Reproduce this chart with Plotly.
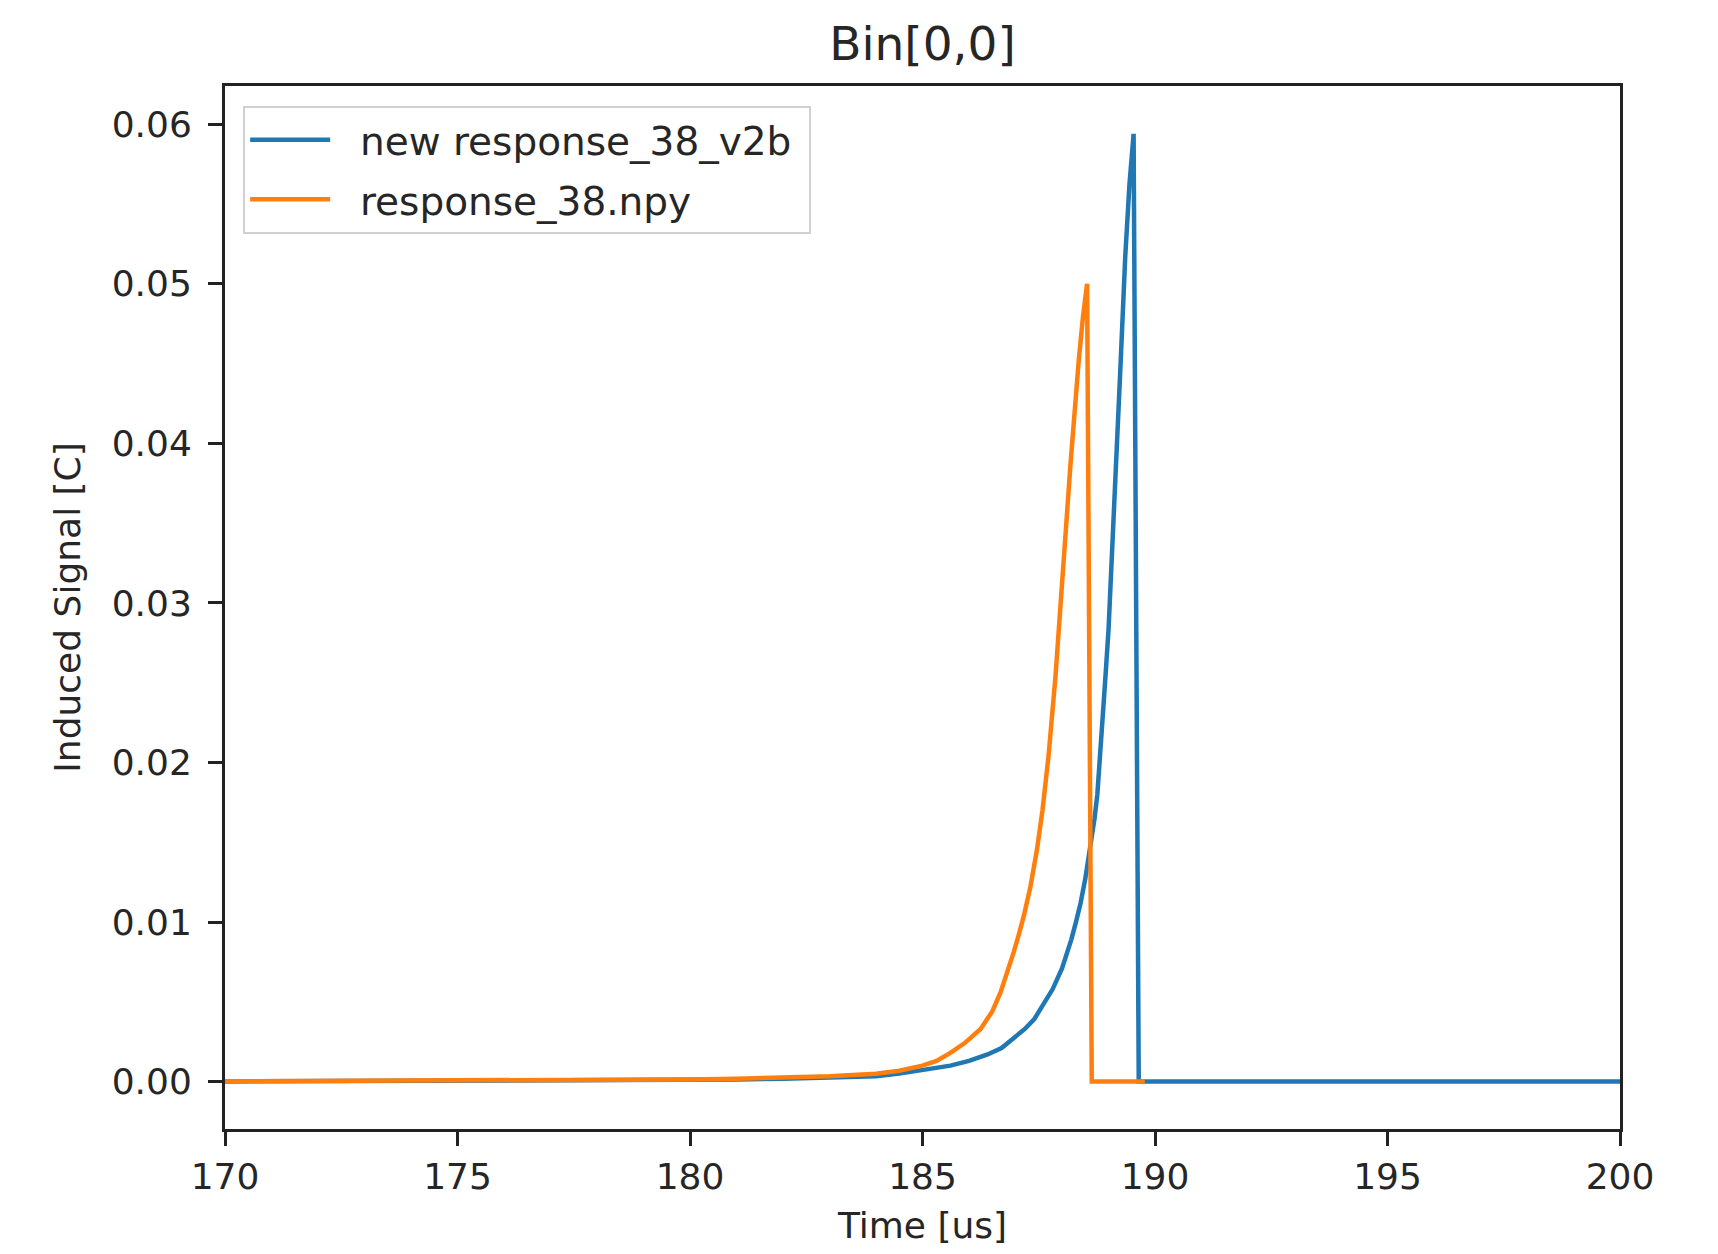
import plotly.graph_objects as go

# ---- data ----
new_t = [170.0, 172.0, 174.0, 176.0, 178.0, 180.0, 181.0, 182.0, 183.0, 184.0, 184.5, 185.0,
         185.6, 186.0, 186.4, 186.7, 187.0, 187.2, 187.4, 187.6, 187.8, 188.0, 188.1, 188.2,
         188.3, 188.4, 188.5, 188.6, 188.7, 188.76, 188.85, 188.93, 189.0, 189.08,
         189.19, 189.26, 189.36, 189.45, 189.54, 189.65, 200.0]
new_v = [0.00001, 0.00002, 0.00003, 0.00005, 0.00007, 0.0001, 0.00013, 0.00018, 0.00024,
         0.00033, 0.0005, 0.0007, 0.001, 0.0013, 0.0017, 0.0021, 0.0028, 0.0033, 0.0039,
         0.0048, 0.0058, 0.0071, 0.0079, 0.0089, 0.0100, 0.0112, 0.0127, 0.0145, 0.0165,
         0.0180, 0.0215, 0.0252, 0.0283, 0.0331, 0.0394, 0.0450, 0.0517, 0.0562,
         0.0594, 0.0, 0.0]

old_t = [170.0, 172.0, 174.0, 176.0, 178.0, 180.0, 181.0, 182.0, 183.0, 184.0, 184.5, 185.0,
         185.3, 185.6, 185.9, 186.25, 186.5, 186.68, 186.85, 186.96, 187.07, 187.18, 187.32,
         187.46, 187.58, 187.71, 187.86, 187.97, 188.04, 188.11, 188.18, 188.27, 188.36,
         188.45, 188.54, 188.64, 189.78]
old_v = [0.00002, 0.00003, 0.00004, 0.00006, 0.00009, 0.00014, 0.00018, 0.00023, 0.00033,
         0.0005, 0.00068, 0.001, 0.0013, 0.0018, 0.0024, 0.0033, 0.0044, 0.0056, 0.0070,
         0.0081, 0.0092, 0.0104, 0.0122, 0.0145, 0.0170, 0.0204, 0.0254, 0.0296, 0.0326,
         0.0357, 0.0386, 0.0421, 0.0452, 0.0479, 0.0500, 0.0, 0.0]

series_names = ["new response_38_v2b", "response_38.npy"]
series_colors = ["#1f77b4", "#ff7f0e"]

x_ticks = [170, 175, 180, 185, 190, 195, 200]
y_ticks = [0.00, 0.01, 0.02, 0.03, 0.04, 0.05, 0.06]

FONT = "DejaVu Sans"
TXT = "#262626"
PAD = "\u00a0\u00a0"

fig = go.Figure()
fig.add_trace(go.Scatter(x=new_t, y=new_v, mode="lines", name=PAD + series_names[0] + "\u00a0",
                         legendgroup="a",
                         line=dict(color=series_colors[0], width=4.5)))
fig.add_trace(go.Scatter(x=old_t, y=old_v, mode="lines", name=PAD + series_names[1],
                         legendgroup="b",
                         line=dict(color=series_colors[1], width=4.5)))

axis_common = dict(showline=True, linecolor="#222", linewidth=3, mirror=True,
                   ticks="outside", ticklen=14, tickwidth=3, tickcolor="#222",
                   showgrid=False, zeroline=False,
                   tickfont=dict(family=FONT, size=36, color=TXT))

fig.update_xaxes(range=[170, 200], tickvals=x_ticks, ticktext=[str(v) for v in x_ticks],
                 ticklabelstandoff=0,
                 title=dict(text="Time [us]", font=dict(family=FONT, size=36, color=TXT),
                            standoff=17),
                 **axis_common)
fig.update_yaxes(range=[-0.00297, 0.0624], tickvals=y_ticks,
                 ticktext=[f"{v:.2f}" for v in y_ticks],
                 ticklabelstandoff=9,
                 title=dict(text="Induced Signal [C]", font=dict(family=FONT, size=36, color=TXT),
                            standoff=21),
                 **axis_common)

fig.update_layout(
    width=1718, height=1254,
    margin=dict(l=217, r=106, t=78, b=133),
    paper_bgcolor="white", plot_bgcolor="white",
    font=dict(family=FONT, color=TXT),
    title=dict(text="Bin[0,0]", x=0.5, xref="paper", xanchor="center",
               y=0.972, yanchor="middle",
               font=dict(family=FONT, size=47, color=TXT)),
    legend=dict(x=0.013, y=0.981, xanchor="left", yanchor="top",
                bgcolor="rgba(255,255,255,0.8)", bordercolor="#d0d0d0", borderwidth=2,
                font=dict(family=FONT, size=39, color=TXT), tracegroupgap=6,
                itemwidth=80),
    showlegend=True,
)

fig.write_html("out.html")
